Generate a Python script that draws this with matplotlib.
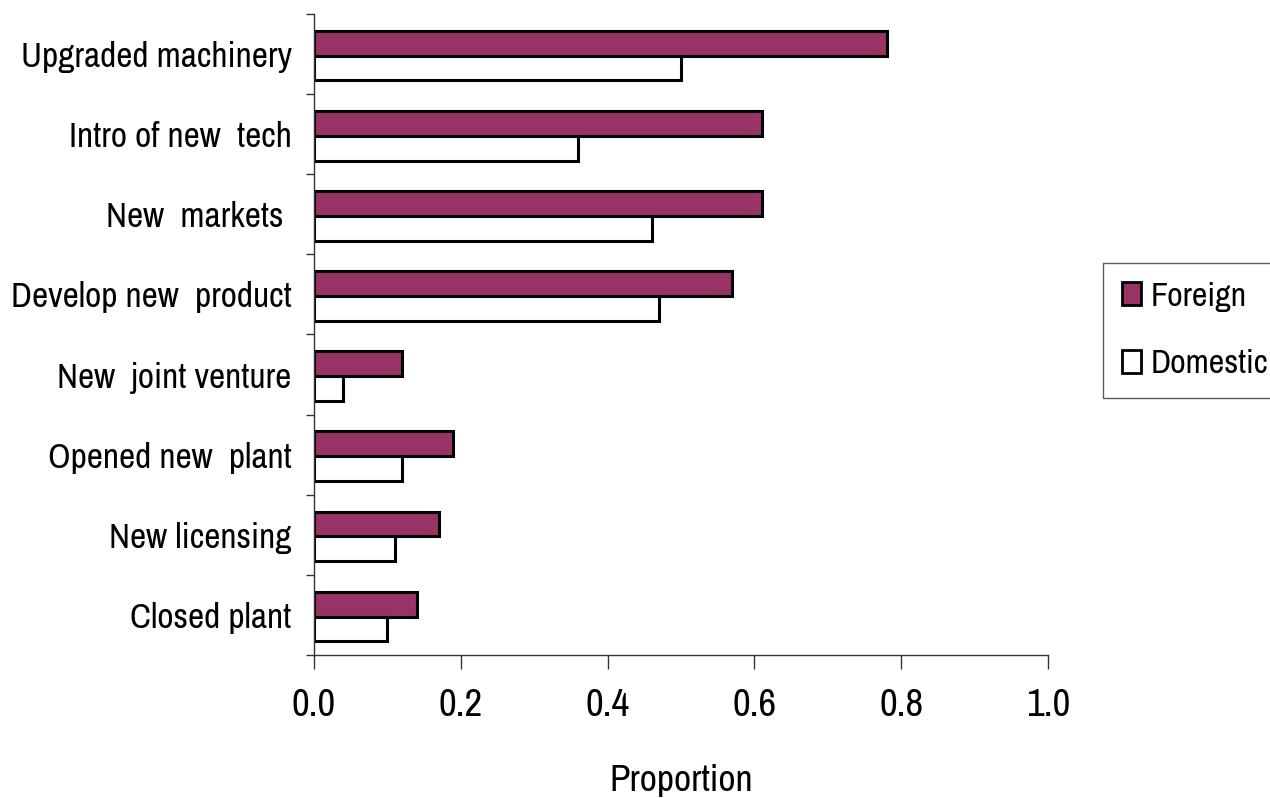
import matplotlib
matplotlib.use("Agg")
import matplotlib.pyplot as plt
from matplotlib.patches import Patch
import numpy as np

categories = ["Upgraded machinery", "Intro of new  tech", "New  markets ", "Develop new  product",
              "New  joint venture", "Opened new  plant", "New licensing", "Closed plant"]
foreign = [0.78, 0.61, 0.61, 0.57, 0.12, 0.19, 0.17, 0.14]
domestic = [0.50, 0.36, 0.46, 0.47, 0.04, 0.12, 0.11, 0.10]
xticks = [0.0, 0.2, 0.4, 0.6, 0.8, 1.0]

plt.rcParams["font.family"] = ["Archivo Narrow", "Liberation Sans", "DejaVu Sans"]

fig = plt.figure(figsize=(12.7, 7.98), dpi=100)
ax = fig.add_axes([0.2472, 0.1792, 0.578, 0.8033])

y = np.arange(len(categories))
h = 0.31
ax.barh(y - h / 2 + 0.02, foreign, height=h, color="#993366", edgecolor="black", linewidth=2.2)
ax.barh(y + h / 2 + 0.02, domestic, height=h, color="white", edgecolor="black", linewidth=2.2)

ax.set_ylim(len(categories) - 0.5, -0.5)
ax.set_xlim(0, 1.0)

# ticks on the category boundaries, labels in the middle of each band
ax.set_yticks(np.arange(len(categories) + 1) - 0.5)
ax.set_yticklabels([])
ax.set_yticks(y, minor=True)
ax.set_yticklabels(categories, minor=True, fontsize=25.5)
ax.tick_params(axis="y", which="minor", length=0, pad=16)
ax.tick_params(axis="y", which="major", length=6, width=1, direction="out", color="#333333")

ax.set_xticks(xticks)
ax.set_xticklabels([f"{v:.1f}" for v in xticks], fontsize=28)
ax.tick_params(axis="x", length=10, width=1, direction="out", pad=14, color="#333333")
ax.set_xlabel("Proportion", fontsize=27, labelpad=29)

for side in ["top", "right"]:
    ax.spines[side].set_visible(False)
for side in ["left", "bottom"]:
    ax.spines[side].set_color("#333333")
    ax.spines[side].set_linewidth(1)

handles = [Patch(facecolor="#993366", edgecolor="black", linewidth=2),
           Patch(facecolor="white", edgecolor="black", linewidth=2)]
leg = fig.legend(handles, ["Foreign", "Domestic"], loc="upper left",
                 bbox_to_anchor=(1103 / 1270, 1 - 263 / 798), fontsize=24.5,
                 frameon=True, fancybox=False, handlelength=0.56, handleheight=0.68,
                 handletextpad=0.28, labelspacing=1.1, borderpad=0.55, borderaxespad=0)
leg.get_frame().set_edgecolor("#333333")
leg.get_frame().set_linewidth(1)

fig.savefig("out.png", dpi=100)
